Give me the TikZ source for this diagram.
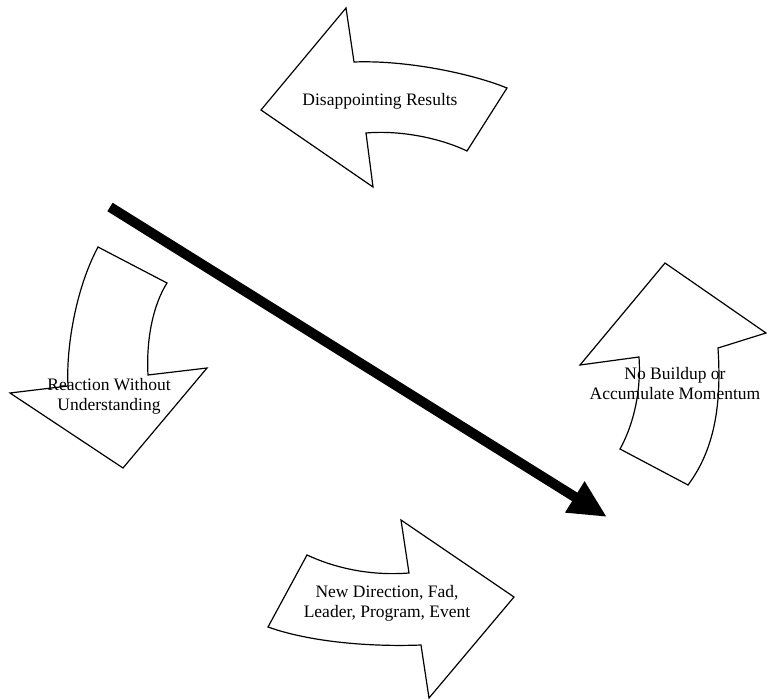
\documentclass[tikz,border=0pt]{standalone}
\usepackage{fontspec}
\setmainfont{Liberation Serif}
\usetikzlibrary{arrows.meta}
\begin{document}
\begin{tikzpicture}[x=1pt,y=-1pt,
  blockarrow/.style={draw=black, line width=1.2pt, fill=white, line join=miter},
  lbl/.style={font=\fontsize{17.5}{20}\selectfont, align=center, inner sep=0pt},
  bigarrow/.style={line width=10pt, -{Triangle[length=38pt,width=34pt]}}]
\useasboundingbox (0,0) rectangle (767,700);

% Disappointing Results (top, pointing left)
\draw[blockarrow] (261,110) -- (346,8) -- (354,62)
  .. controls (405,60) and (470,73) .. (507,88)
  -- (467,151)
  .. controls (440,138) and (400,130) .. (366,133)
  -- (373,187) -- cycle;
\node[lbl, anchor=base] (dis) at (380,106) {Disappointing Results};

% Reaction Without Understanding (left, pointing down)
\draw[blockarrow] (98,247) -- (167,283)
  .. controls (153,305) and (146,340) .. (148,375)
  -- (207,368) -- (123,468) -- (10,393) -- (68,386)
  .. controls (66,350) and (75,290) .. (98,247) -- cycle;
\node[lbl] (rea) at (109,396) {Reaction Without\\Understanding};

% No Buildup or Accumulate Momentum (right, pointing up)
\draw[blockarrow] (665,263) -- (766,333) -- (718,348)
  .. controls (721,395) and (718,445) .. (688,485)
  -- (620,449)
  .. controls (636,420) and (641,385) .. (639,357)
  -- (580,365) -- cycle;
\node[lbl] (nob) at (675,384) {No Buildup or\\Accumulate Momentum};

% New Direction (bottom, pointing right)
\draw[blockarrow] (514,597) -- (401,520) -- (409,573)
  .. controls (370,576) and (335,568) .. (307,555)
  -- (268,627)
  .. controls (310,642) and (370,647) .. (421,645)
  -- (429,698) -- cycle;
\node[lbl] (new) at (387,603) {New Direction, Fad,\\Leader, Program, Event};

% big black arrow
\coordinate (bs) at (110,207);
\coordinate (be) at (607,517);
\draw[bigarrow] (bs) -- (be);
\end{tikzpicture}
\end{document}
